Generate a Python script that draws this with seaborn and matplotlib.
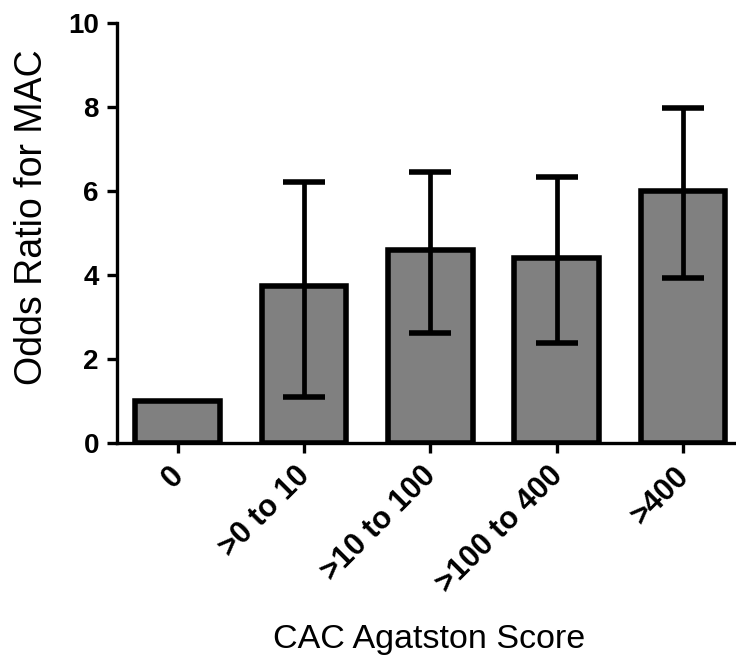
import numpy as np
import pandas as pd
import matplotlib
matplotlib.use('Agg')
import matplotlib.pyplot as plt
import matplotlib.transforms as mtransforms
import seaborn as sns

# valores
categorias = ['0', '>0 to 10', '>10 to 100', '>100 to 400', '>400']
odds = [1.0, 3.73, 4.59, 4.40, 6.01]
ic_inf = [np.nan, 1.10, 2.61, 2.38, 3.94]
ic_sup = [np.nan, 6.21, 6.46, 6.33, 7.99]

sns.set_style('ticks')
plt.rcParams['font.family'] = ['Liberation Sans', 'DejaVu Sans']
plt.rcParams['text.color'] = 'black'
plt.rcParams['axes.labelcolor'] = 'black'
plt.rcParams['xtick.color'] = 'black'
plt.rcParams['ytick.color'] = 'black'

df = pd.DataFrame({'cat': categorias, 'odds': odds})

fig = plt.figure(figsize=(7.36, 6.64), dpi=100)
ax = fig.add_axes([0.159, 0.333, 0.841, 0.632])

sns.barplot(data=df, x='cat', y='odds', color='#808080', saturation=1,
            width=0.67, edgecolor='black', linewidth=4, errorbar=None, ax=ax)

# barras de erro (superior e inferior)
x = np.arange(len(categorias))
odds_a = np.array(odds)
lo = odds_a - np.array(ic_inf)
hi = np.array(ic_sup) - odds_a
ax.errorbar(x, odds_a, yerr=[lo, hi], fmt='none', ecolor='black',
            elinewidth=3.4, capsize=15, capthick=4, zorder=5)

ax.set_ylim(0, 10)
ax.set_yticks([0, 2, 4, 6, 8, 10])
ax.set_xlim(-0.48, 4.42)

ax.set_ylabel('Odds Ratio for MAC', fontsize=27)
ax.set_xlabel('CAC Agatston Score', fontsize=24.5, va='center')
ax.yaxis.set_label_coords(-0.108, 0.538)
ax.xaxis.set_label_coords(0.505, -0.468)

ax.tick_params(axis='both', width=2.4, length=7, color='black', pad=6)
for s in ['left', 'bottom']:
    ax.spines[s].set_linewidth(2.4)
    ax.spines[s].set_color('black')
sns.despine(ax=ax)

plt.setp(ax.get_yticklabels(), fontsize=20, fontweight='bold')
plt.setp(ax.get_xticklabels(), fontsize=22, fontweight='bold', rotation=45,
         ha='right', rotation_mode='anchor')
# desloca os rotulos um pouco para a esquerda
desloc = mtransforms.ScaledTranslation(-0.09, 0, fig.dpi_scale_trans)
for lab in ax.get_xticklabels():
    lab.set_transform(lab.get_transform() + desloc)

fig.savefig('out.png', dpi=100)
